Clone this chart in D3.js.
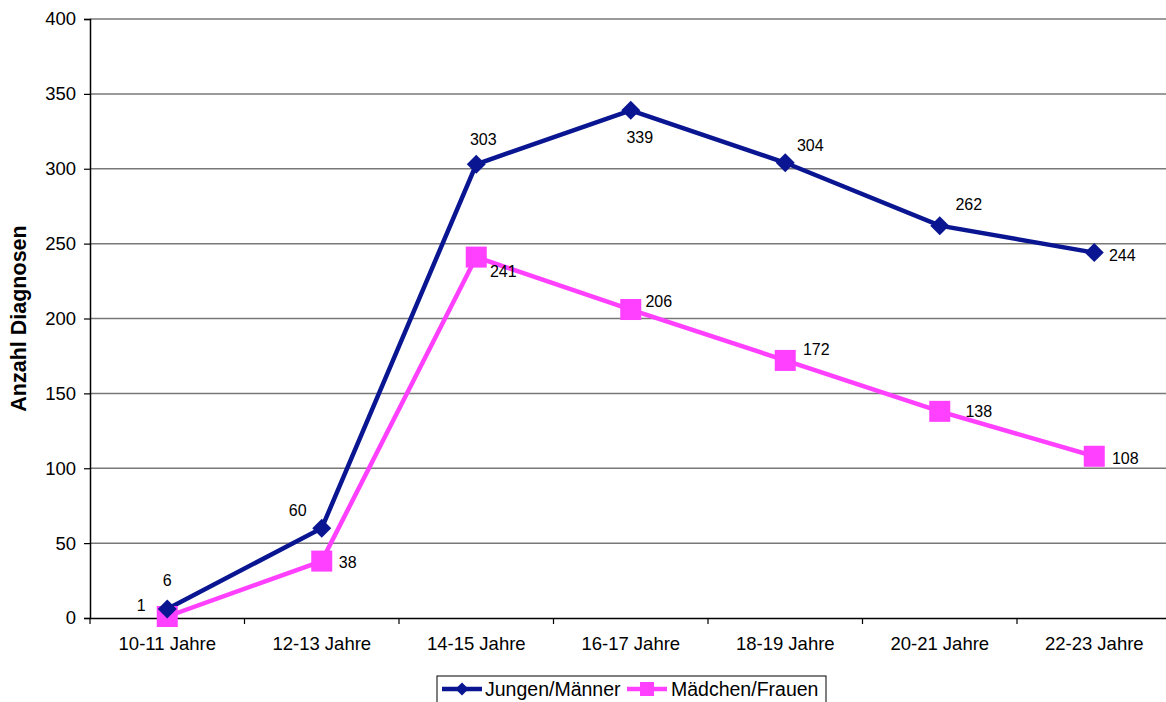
<!DOCTYPE html>
<meta charset="utf-8">
<title>Anzahl Diagnosen</title>
<style>
body { margin: 0; background: #fff; }
text { font-family: Arial, "Liberation Sans", sans-serif; fill: #000; }
.grid line { stroke: #787878; stroke-width: 1.5px; }
</style>
<body>
<svg width="1166" height="702" id="svg"></svg>
<script src="https://d3js.org/d3.v7.min.js"></script>
<script>

var categories = ["10-11 Jahre", "12-13 Jahre", "14-15 Jahre", "16-17 Jahre", "18-19 Jahre", "20-21 Jahre", "22-23 Jahre"];
var jungen = [6, 60, 303, 339, 304, 262, 244];
var maedchen = [1, 38, 241, 206, 172, 138, 108];
var yTicks = [0, 50, 100, 150, 200, 250, 300, 350, 400];
var seriesNames = ["Jungen/Männer", "Mädchen/Frauen"];

var svg = d3.select("svg"),
    plotLeft = 90, plotRight = 1171.5, plotTop = 19, plotBottom = 618;

var x = d3.scaleBand().domain(categories).range([plotLeft, plotRight]);
var y = d3.scaleLinear().domain([0, 400]).range([plotBottom, plotTop]);

// gridlines
svg.append("g").attr("class", "grid")
  .selectAll("line").data(yTicks.filter(function(d) { return d > 0; }))
  .enter().append("line")
    .attr("x1", plotLeft).attr("x2", 1166)
    .attr("y1", function(d) { return y(d); })
    .attr("y2", function(d) { return y(d); });

// y axis
var yAxis = svg.append("g")
    .attr("transform", "translate(" + plotLeft + ",0)")
    .call(d3.axisLeft(y).tickValues(yTicks).tickSize(6).tickPadding(8));
yAxis.select(".domain").attr("stroke", "#000").attr("stroke-width", 1.5);
yAxis.selectAll(".tick line").attr("stroke", "#000").attr("stroke-width", 1.2);
yAxis.selectAll("text").style("font-size", "18.5px").style("font-family", "Arial, 'Liberation Sans', sans-serif");

// x axis
var xAxis = svg.append("g")
    .attr("transform", "translate(0," + plotBottom + ")")
    .call(d3.axisBottom(x).tickSize(0).tickPadding(19));
xAxis.select(".domain").attr("stroke", "#000").attr("stroke-width", 1.5);
xAxis.selectAll("text").style("font-size", "18.5px").style("font-family", "Arial, 'Liberation Sans', sans-serif");
// tick marks between categories
svg.append("g").selectAll("line")
  .data(categories)
  .enter().append("line")
    .attr("x1", function(d) { return x(d); })
    .attr("x2", function(d) { return x(d); })
    .attr("y1", plotBottom).attr("y2", plotBottom + 6)
    .attr("stroke", "#000").attr("stroke-width", 1.2);

svg.append("text")
    .attr("transform", "translate(26," + ((plotTop + plotBottom) / 2) + ") rotate(-90)")
    .attr("text-anchor", "middle")
    .style("font-size", "21.5px").style("font-weight", "bold")
    .text("Anzahl Diagnosen");

var cx = function(i) { return x(categories[i]) + x.bandwidth() / 2; };
var line = d3.line()
    .x(function(d, i) { return cx(i); })
    .y(function(d) { return y(d); });

var blue = "#0a1691", pink = "#ff40ff";

svg.append("path").datum(maedchen)
    .attr("d", line).attr("fill", "none")
    .attr("stroke", pink).attr("stroke-width", 4.5);
svg.append("path").datum(jungen)
    .attr("d", line).attr("fill", "none")
    .attr("stroke", blue).attr("stroke-width", 4.5);

svg.append("g").selectAll("rect").data(maedchen)
  .enter().append("rect")
    .attr("x", function(d, i) { return cx(i) - 10.5; })
    .attr("y", function(d) { return y(d) - 10.5; })
    .attr("width", 21).attr("height", 21)
    .attr("fill", pink);

var diamond = d3.symbol().type(d3.symbolDiamond2).size(230);
svg.append("g").selectAll("path").data(jungen)
  .enter().append("path")
    .attr("d", diamond)
    .attr("transform", function(d, i) { return "translate(" + cx(i) + "," + y(d) + ")"; })
    .attr("fill", blue);

// data labels
var jOff = [[0, -29], [-24, -18], [7, -25], [9, 27], [25, -17], [29, -21], [28, 3]];
var mOff = [[-26, -11], [26, 1], [27, 14], [28, -8], [31, -11], [39, 0], [31, 2]];
function labels(data, off) {
  svg.append("g").selectAll("text").data(data)
    .enter().append("text")
      .attr("x", function(d, i) { return cx(i) + off[i][0]; })
      .attr("y", function(d, i) { return y(d) + off[i][1]; })
      .attr("text-anchor", "middle")
      .attr("dy", "0.35em")
      .style("font-size", "16px")
      .text(function(d) { return d; });
}
labels(jungen, jOff);
labels(maedchen, mOff);

// legend
var lg = svg.append("g").attr("transform", "translate(437,676)");
lg.append("rect").attr("x", 0).attr("y", 0).attr("width", 389).attr("height", 40)
    .attr("fill", "#fff").attr("stroke", "#000").attr("stroke-width", 1);
lg.append("line").attr("x1", 5).attr("x2", 45).attr("y1", 13).attr("y2", 13)
    .attr("stroke", blue).attr("stroke-width", 4.5);
lg.append("path").attr("d", d3.symbol().type(d3.symbolDiamond2).size(110))
    .attr("transform", "translate(25,13)").attr("fill", blue);
lg.append("text").attr("x", 48).attr("y", 20).style("font-size", "19.5px").text(seriesNames[0]);
lg.append("line").attr("x1", 190).attr("x2", 230).attr("y1", 13).attr("y2", 13)
    .attr("stroke", pink).attr("stroke-width", 4.5);
lg.append("rect").attr("x", 203).attr("y", 6).attr("width", 14).attr("height", 14).attr("fill", pink);
lg.append("text").attr("x", 234).attr("y", 20).style("font-size", "19.5px").text(seriesNames[1]);

</script>
</body>
